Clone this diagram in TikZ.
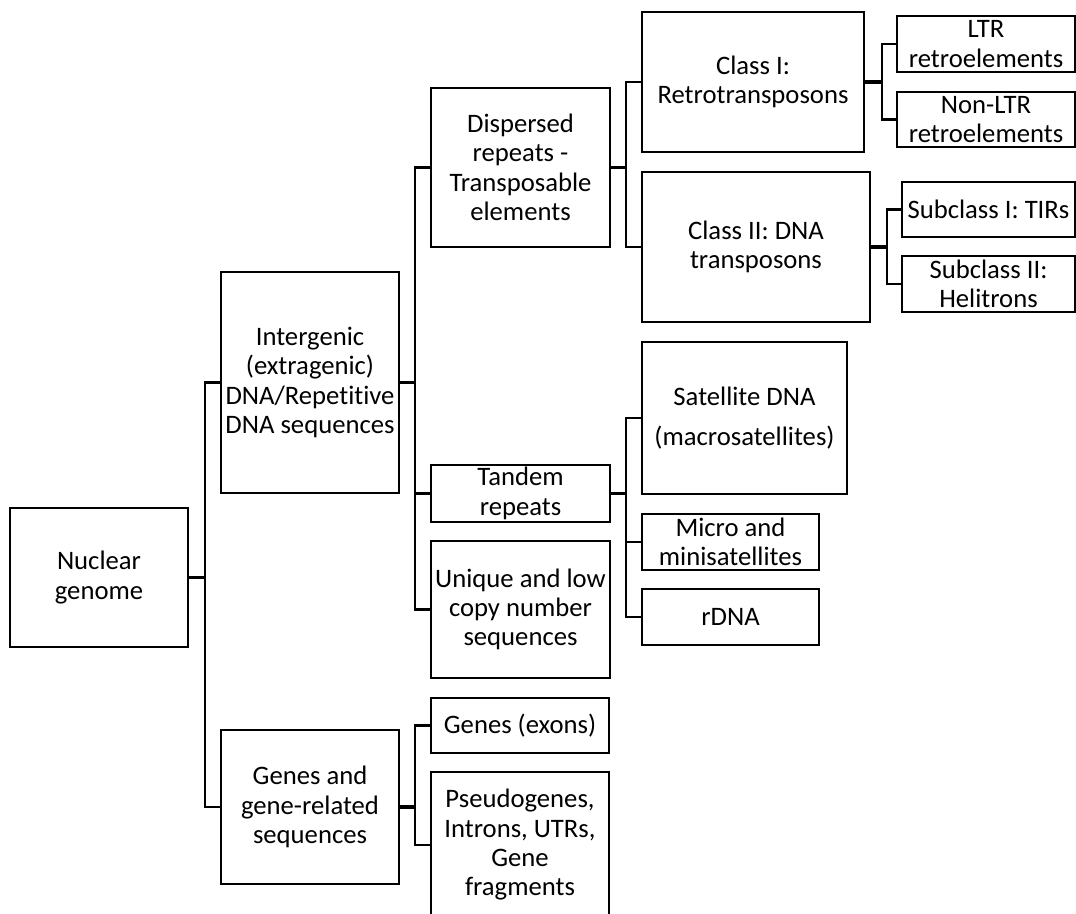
\documentclass[tikz,border=0pt]{standalone}
\usepackage{fontspec}
\setmainfont{Carlito}[Ligatures=NoCommon]
\tikzset{
    box/.style 2 args={draw=black, line width=1.5pt, align=center, inner sep=0pt,
        minimum width=#1*0.75pt, minimum height=#2*0.75pt,
        font=\fontsize{20}{22}\selectfont},
    link/.style={line width=2pt},
    stub/.style={line width=2.8pt}
}
\begin{document}
\begin{tikzpicture}[x=0.75pt, y=-0.75pt]
    \useasboundingbox (0,0) rectangle (1076,914);
    \clip (0,0) rectangle (1076,914);
    % boxes
    \node[box={178}{139}] (nuc) at (99, 577.5) {Nuclear\\genome};
    \node[box={178}{221}] (inter) at (310, 382.5) {Intergenic\\(extragenic)\\DNA/Repetitive\\DNA sequences};
    \node[box={178}{154}] (genes) at (310, 807) {Genes and\\gene-related\\sequences};
    \node[box={179}{159}] (disp) at (520.5, 167.5) {Dispersed\\repeats -\\Transposable\\elements};
    \node[box={179}{57}] (tand) at (520.5, 493.5) {Tandem\\repeats};
    \node[box={179}{137}] (uniq) at (520.5, 609.5) {Unique and low\\copy number\\sequences};
    \node[box={178}{55}] (exon) at (520, 725.5) {Genes (exons)};
    \node[box={178}{146}] (pseudo) at (520, 845) {Pseudogenes,\\Introns, UTRs,\\Gene\\fragments};
    \node[box={222}{140}] (cls1) at (753, 82) {Class I:\\Retrotransposons};
    \node[box={228}{150}] (cls2) at (756, 247) {Class II: DNA\\transposons};
    \node[box={205}{152}] (sat) at (744.5, 418) {Satellite DNA\\[8pt](macrosatellites)};
    \node[box={177}{56}] (micro) at (730.5, 542) {Micro and\\minisatellites};
    \node[box={177}{56}] (rdna) at (730.5, 617) {rDNA};
    \node[box={178}{56}] (ltr) at (986, 44) {LTR\\retroelements};
    \node[box={178}{55}] (nonltr) at (986, 119.5) {Non-LTR\\retroelements};
    \node[box={173}{55}] (sub1) at (988.5, 209.5) {Subclass I: TIRs};
    \node[box={173}{56}] (sub2) at (988.5, 284) {Subclass II:\\Helitrons};
    % branch points
    \coordinate (b0) at (205, 577.5);
    \coordinate (b1) at (415, 382.5);
    \coordinate (b2) at (415, 807);
    \coordinate (b3) at (626, 167.5);
    \coordinate (b4) at (626, 493.5);
    \coordinate (b5) at (882, 82);
    \coordinate (b6) at (887, 247);
    % connectors
    \draw[stub] (nuc.east) -- (b0);
    \draw[link] (b0) |- (inter.west);
    \draw[link] (b0) |- (genes.west);
    \draw[stub] (inter.east) -- (b1);
    \draw[link] (b1) |- (disp.west);
    \draw[link] (b1) |- (tand.west);
    \draw[link] (b1) |- (uniq.west);
    \draw[stub] (genes.east) -- (b2);
    \draw[link] (b2) |- (exon.west);
    \draw[link] (b2) |- (pseudo.west);
    \draw[stub] (disp.east) -- (b3);
    \draw[link] (b3) |- (cls1.west);
    \draw[link] (b3) |- (cls2.west);
    \draw[stub] (tand.east) -- (b4);
    \draw[link] (b4) |- (sat.west);
    \draw[link] (b4) |- (micro.west);
    \draw[link] (b4) |- (rdna.west);
    \draw[stub] (cls1.east) -- (b5);
    \draw[link] (b5) |- (ltr.west);
    \draw[link] (b5) |- (nonltr.west);
    \draw[stub] (cls2.east) -- (b6);
    \draw[link] (b6) |- (sub1.west);
    \draw[link] (b6) |- (sub2.west);
\end{tikzpicture}
\end{document}
